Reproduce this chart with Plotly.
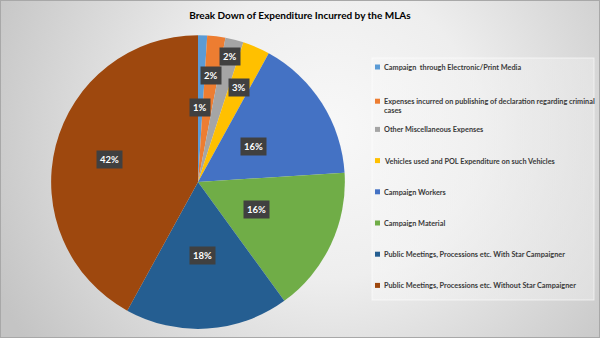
import base64
import math
import plotly.graph_objects as go

# Expenditure categories and their shares (%)
categories = [
    "Campaign  through Electronic/Print Media",
    "Expenses incurred on publishing of declaration regarding criminal<br>cases",
    "Other Miscellaneous Expenses",
    "Vehicles used and POL Expenditure on such Vehicles",
    "Campaign Workers",
    "Campaign Material",
    "Public Meetings, Processions etc. With Star Campaigner",
    "Public Meetings, Processions etc. Without Star Campaigner",
]
shares = [1, 2, 2, 3, 16, 16, 18, 42]
colors = ["#5B9BD5", "#ED7D31", "#A5A5A5", "#FFC000",
          "#4472C4", "#70AD47", "#255E91", "#9E480E"]

# radial distance of each percentage tag, as a fraction of the pie radius
tag_radius = [0.51, 0.73, 0.88, 0.70, 0.45, 0.44, 0.50, 0.62]

W, H = 600, 338
dom_x = [0.082, 0.578]
dom_y = [0.027, 0.896]

FONT = "Lato, Roboto, sans-serif"

bg_svg = f"""<svg xmlns='http://www.w3.org/2000/svg' width='{W}' height='{H}' viewBox='0 0 {W} {H}' preserveAspectRatio='none'>
<defs>
<radialGradient id='g' cx='330' cy='130' r='370' gradientUnits='userSpaceOnUse'>
<stop offset='0' stop-color='#f8f8f8'/><stop offset='0.4' stop-color='#eeeeee'/><stop offset='1' stop-color='#c4c4c4'/>
</radialGradient>
<linearGradient id='l' x1='0' x2='1' y1='0' y2='0'>
<stop offset='0' stop-color='#f7f7f7'/><stop offset='1' stop-color='#ececec'/>
</linearGradient>
</defs>
<rect width='{W}' height='{H}' fill='url(#g)'/>
<rect x='372' y='58' width='222' height='242' fill='url(#l)' fill-opacity='0.55' stroke='#ffffff' stroke-opacity='0.6'/>
<rect x='0.5' y='0.5' width='{W-1}' height='{H-1}' fill='none' stroke='#a8a8a8'/>
</svg>"""
bg_uri = "data:image/svg+xml;base64," + base64.b64encode(bg_svg.encode()).decode()

fig = go.Figure(go.Pie(
    labels=categories,
    values=shares,
    marker=dict(colors=colors, line=dict(width=0)),
    sort=False,
    direction="clockwise",
    rotation=0,
    textinfo="none",
    hoverinfo="label+percent",
    showlegend=False,
    domain=dict(x=dom_x, y=dom_y),
))

# pie geometry in pixels (Plotly draws the pie as a circle centred in its domain)
cx = (dom_x[0] + dom_x[1]) / 2 * W
cy = (1 - (dom_y[0] + dom_y[1]) / 2) * H
radius = min((dom_x[1] - dom_x[0]) * W, (dom_y[1] - dom_y[0]) * H) / 2

total = sum(shares)
annotations = []
shapes = []
cum = 0
for val, frac in zip(shares, tag_radius):
    mid = (cum + val / 2) / total * 2 * math.pi
    cum += val
    px = cx + frac * radius * math.sin(mid)
    py = cy - frac * radius * math.cos(mid)
    annotations.append(dict(
        x=px / W, y=1 - py / H, xref="paper", yref="paper",
        xanchor="center", yanchor="middle",
        text=f"<b>{val}%</b>", showarrow=False,
        font=dict(family=FONT, size=9.5, color="white"),
        bgcolor="#404040", borderpad=3,
    ))

# legend column
leg_x = 381
row0, pitch = 67, 31.2
for i, (name, col) in enumerate(zip(categories, colors)):
    ry = row0 + i * pitch + (3 if "<br>" in name else 0)
    shapes.append(dict(
        type="rect", xref="paper", yref="paper",
        x0=(leg_x - 6) / W, x1=(leg_x - 1) / W,
        y0=1 - (ry + 2.5) / H, y1=1 - (ry - 2.5) / H,
        fillcolor=col, line=dict(width=0),
    ))
    annotations.append(dict(
        x=(leg_x + 1) / W, y=1 - (ry - 6) / H, xref="paper", yref="paper",
        xanchor="left", yanchor="top", align="left",
        text=f"<b>{name}</b>", showarrow=False,
        font=dict(family=FONT, size=7.3, color="#3a3a3a"),
    ))

fig.update_layout(
    width=W, height=H,
    margin=dict(l=0, r=0, t=0, b=0),
    paper_bgcolor="#e4e4e4",
    plot_bgcolor="rgba(0,0,0,0)",
    title=dict(
        text="<b>Break Down of Expenditure Incurred by the MLAs</b>",
        x=0.5, xanchor="center", y=1 - 15 / H, yanchor="middle",
        font=dict(family=FONT, size=10, color="#000000"),
    ),
    images=[dict(source=bg_uri, xref="paper", yref="paper", x=0, y=1,
                 sizex=1, sizey=1, sizing="stretch", layer="below")],
    annotations=annotations,
    shapes=shapes,
)

fig.write_html("out.html")
